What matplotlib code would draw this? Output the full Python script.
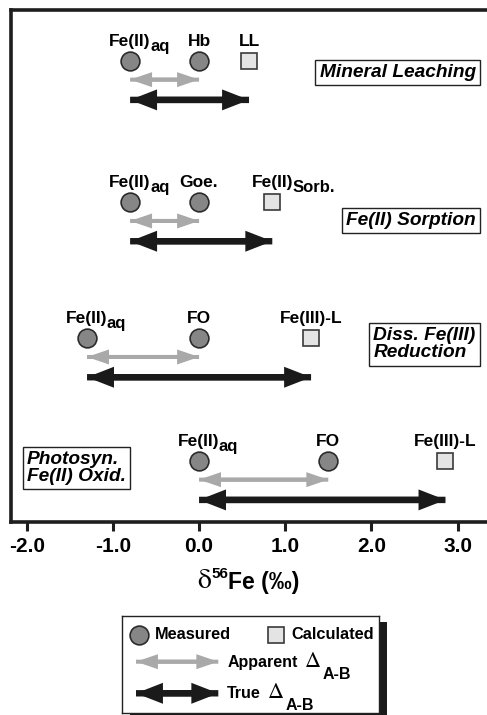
import matplotlib
matplotlib.use("Agg")
import matplotlib.pyplot as plt
from matplotlib.patches import FancyArrowPatch, Rectangle

plt.rcParams['font.family'] = ['Liberation Sans', 'DejaVu Sans']
plt.rcParams['font.weight'] = 'bold'
plt.rcParams['axes.unicode_minus'] = False

# delta56Fe (permil), top row first
processes = ["Mineral Leaching", "Fe(II) Sorption", "Diss. Fe(III)\nReduction", "Photosyn.\nFe(II) Oxid."]
aq_values = [-0.8, -0.8, -1.3, 0.0]        # Fe(II)aq, measured
solid_values = [0.0, 0.0, 0.0, 1.5]        # measured solid / product
calc_values = [0.58, 0.85, 1.3, 2.86]      # calculated end member
solid_labels = ["Hb", "Goe.", "FO", "FO"]
calc_labels = ["LL", "Fe(II)", "Fe(III)-L", "Fe(III)-L"]
calc_subs = ["", "Sorb.", "", ""]
xticks = [-2.0, -1.0, 0.0, 1.0, 2.0, 3.0]

# layout
row_y = [3.0, 1.94, 0.92, 0.0]
gray_dy, black_dy = -0.14, -0.292
box_x = [3.21, 3.21, 3.21, -2.0]
box_ha = ["right", "right", "right", "left"]
box_dy = [-0.086, -0.135, -0.045, -0.053]

GRAY = "#a9a9a9"
BLACK = "#1a1a1a"
CIRC = dict(marker="o", ms=13.5, mfc="#868686", mec="#2b2b2b", mew=1.2, ls="none")
SQR = dict(marker="s", ms=12, mfc="#e4e4e4", mec="#3a3a3a", mew=1.2, ls="none")
GRAY_STYLE = "simple,head_length=15.8,head_width=10.8,tail_width=2.9"
BLACK_STYLE = "simple,head_length=19.4,head_width=15.1,tail_width=4.6"


def double_arrow(ax, x0, x1, y, color, style):
    for a, b in ((x0, x1), (x1, x0)):
        ax.add_patch(FancyArrowPatch((a, y), (b, y), arrowstyle=style, mutation_scale=1,
                                     color=color, lw=0, shrinkA=0, shrinkB=0))


def point_label(ax, x, y, main, sub=""):
    t = ax.annotate(main, (x, y), xytext=(0, 10.8), textcoords="offset points",
                    ha="center", va="baseline", fontsize=12.5, fontweight="bold")
    if sub:
        ax.annotate(sub, xy=(1, y), xycoords=(t, "data"), xytext=(-0.6, 10.8 - 3.4),
                    textcoords="offset points", ha="left", va="baseline",
                    fontsize=12, fontweight="bold")


def chain(ax, pieces, start, coords):
    # pieces: (text, size, family, gap before, rise in points)
    prev = None
    for txt, size, fam, gap, rise in pieces:
        weight = "normal" if fam[0] in ("STIXGeneral", "Liberation Serif") else "bold"
        if prev is None:
            prev = ax.annotate(txt, start, xycoords=coords, xytext=(gap, rise),
                               textcoords="offset points", ha="left", va="baseline",
                               fontsize=size, family=fam, fontweight=weight,
                               annotation_clip=False)
        else:
            prev = ax.annotate(txt, (1, start[1]), xycoords=(prev, coords), xytext=(gap, rise),
                               textcoords="offset points", ha="left", va="baseline",
                               fontsize=size, family=fam, fontweight=weight,
                               annotation_clip=False)
    return prev


fig = plt.figure(figsize=(4.87, 7.15), dpi=100)
ax = fig.add_axes([11.3 / 487, 193 / 715, 485.7 / 487, 511.7 / 715])

for i, name in enumerate(processes):
    y = row_y[i]
    double_arrow(ax, aq_values[i], solid_values[i], y + gray_dy, GRAY, GRAY_STYLE)
    double_arrow(ax, aq_values[i], calc_values[i], y + black_dy, BLACK, BLACK_STYLE)
    ax.plot([aq_values[i], solid_values[i]], [y, y], **CIRC)
    ax.plot([calc_values[i]], [y], **SQR)
    point_label(ax, aq_values[i], y, "Fe(II)", "aq")
    point_label(ax, solid_values[i], y, solid_labels[i])
    point_label(ax, calc_values[i], y, calc_labels[i], calc_subs[i])
    ax.text(box_x[i], y + box_dy[i], name, ha=box_ha[i], va="center", ma="left",
            fontsize=13.8, fontweight="bold", fontstyle="italic", linespacing=1.0,
            bbox=dict(boxstyle="square,pad=0.22", fc="white", ec="#222222", lw=1.0))

ax.set_xlim(-2.179, 3.458)
ax.set_ylim(-0.4576, 3.380)
ax.set_xticks(xticks)
ax.set_xticklabels([f"{v:.1f}" for v in xticks])
ax.set_yticks([])
ax.tick_params(axis="x", direction="out", length=6.5, width=2.2, pad=4,
               labelsize=15, color="#1e1e1e")
for s in ax.spines.values():
    s.set_linewidth(2.6)
    s.set_color("#1e1e1e")

# x label: delta 56 Fe (permil)
chain(ax, [("δ", 20, ["STIXGeneral"], 0, 0),
           ("56", 11, ["Liberation Sans"], 0.3, 7.2),
           ("Fe (‰)", 16.5, ["Liberation Sans", "DejaVu Sans"], 0, 0)],
      (197, 126.5), "figure pixels")

# legend box with drop shadow
lx0, lx1, ly0, ly1 = 121.7, 379.3, 616, 712.7
fig.patches.append(Rectangle(((lx0 + 8) / 487, (715 - ly1 - 6) / 715), (lx1 - lx0) / 487,
                             (ly1 - ly0) / 715, transform=fig.transFigure,
                             fc=BLACK, ec="none", zorder=-1))
lax = fig.add_axes([lx0 / 487, (715 - ly1) / 715, (lx1 - lx0) / 487, (ly1 - ly0) / 715])
lax.set_xlim(0, lx1 - lx0)
lax.set_ylim(ly1 - ly0, 0)
lax.set_xticks([])
lax.set_yticks([])
for s in lax.spines.values():
    s.set_linewidth(1.0)
    s.set_color("#222222")

legend_labels = ["Measured", "Calculated", "Apparent", "True"]
lax.plot([17.5], [18.7], **CIRC)
lax.text(33.3, 23.3, legend_labels[0], fontsize=11.8, va="baseline")
lax.plot([154.6], [19], **SQR)
lax.text(169.3, 23.3, legend_labels[1], fontsize=11.8, va="baseline")

double_arrow(lax, 14.3, 96.6, 45.7, GRAY, GRAY_STYLE)
double_arrow(lax, 14.3, 96.6, 77.3, BLACK, BLACK_STYLE)
for lbl, base in ((legend_labels[2], 51), (legend_labels[3], 82.3)):
    chain(lax, [(lbl, 11.5, ["Liberation Sans"], 0, 0),
                ("Δ", 16, ["STIXGeneral"], 5, 0),
                ("A-B", 11.5, ["Liberation Sans"], 1, -8.5)],
          (105.6, base), "data")

fig.savefig("out.png", dpi=100)
